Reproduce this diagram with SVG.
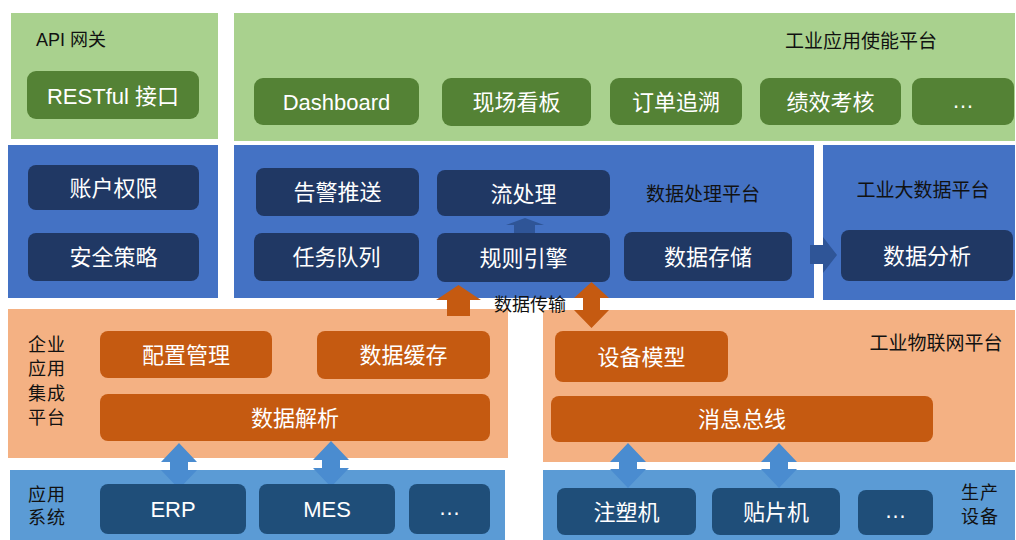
<svg xmlns="http://www.w3.org/2000/svg" width="1016" height="540" viewBox="0 0 1016 540">
<style>
text{font-family:"Liberation Sans","Noto Sans CJK SC",sans-serif;dominant-baseline:central}
.lbl{font-size:18px;fill:#111}
.big{font-size:19px}
.bt{font-size:22px;fill:#fff;text-anchor:middle}
.pg{fill:#A9D18E}
.pb{fill:#4472C4}
.po{fill:#F4B183}
.pl{fill:#5B9BD5}
.bg{fill:#548235}
.bn{fill:#203864}
.bo{fill:#C55A11}
.bs{fill:#1F4E79}
</style>
<rect width="1016" height="540" fill="#fff"/>
<g id="panels">
<rect id="api-panel" class="pg" x="11" y="13" width="207" height="126"/>
<rect id="app-enable-panel" class="pg" x="234" y="13" width="781" height="128"/>
<rect id="security-panel" class="pb" x="8" y="145" width="210" height="153"/>
<rect id="data-proc-panel" class="pb" x="234" y="145" width="580" height="153"/>
<rect id="bigdata-panel" class="pb" x="823" y="145" width="192" height="155"/>
<rect id="eai-panel" class="po" x="8" y="309" width="500" height="149"/>
<rect id="iiot-panel" class="po" x="543" y="310" width="472" height="152"/>
<rect id="appsys-panel" class="pl" x="10" y="470" width="495" height="70"/>
<rect id="prod-panel" class="pl" x="543" y="470" width="472" height="70"/>
</g>
<g id="panel-labels">
<text class="lbl" x="36" y="40">API 网关</text>
<text class="lbl big" x="861" y="41" text-anchor="middle">工业应用使能平台</text>
<text class="lbl big" x="703" y="194" text-anchor="middle">数据处理平台</text>
<text class="lbl big" x="923" y="190" text-anchor="middle">工业大数据平台</text>
<text class="lbl big" x="936" y="343" text-anchor="middle">工业物联网平台</text>
<text class="lbl" text-anchor="middle" letter-spacing="1"><tspan x="47" y="345">企业</tspan><tspan x="47" y="369">应用</tspan><tspan x="47" y="394">集成</tspan><tspan x="47" y="418">平台</tspan></text>
<text class="lbl" text-anchor="middle" letter-spacing="1"><tspan x="47" y="495">应用</tspan><tspan x="47" y="518">系统</tspan></text>
<text class="lbl" text-anchor="middle" letter-spacing="1"><tspan x="980" y="493">生产</tspan><tspan x="980" y="517">设备</tspan></text>
</g>
<g id="connectors">
<polygon id="c-rule-stream" fill="#2F5597" points="525,218 544,225 535,225 535,234 514,234 514,225 506,225"/>
<polygon id="c-proc-bigdata" fill="#2F5597" points="810,245 823,245 823,237 837,255 823,273 823,264 810,264"/>
<polygon id="c-eai-up" fill="#C55A11" points="458.5,285 481,300 470,300 470,316 447,316 447,300 436,300"/>
<polygon id="c-iiot-dbl" fill="#C55A11" points="591.5,282 609,298 600,298 600,310 609,310 591.5,328 574,310 583,310 583,298 574,298"/>
<polygon id="c-erp" fill="#4A8CD0" points="179,443 197,462 188,462 188,470 197,470 179,489 161,470 170,470 170,462 161,462"/>
<polygon id="c-mes" fill="#4A8CD0" points="331,441 349,460 340,460 340,468 349,468 331,487 313,468 322,468 322,460 313,460"/>
<polygon id="c-inj" fill="#4A8CD0" points="628,443 646,462 637,462 637,469 646,469 628,488 610,469 619,469 619,462 610,462"/>
<polygon id="c-smt" fill="#4A8CD0" points="779,443 797,462 788,462 788,469 797,469 779,488 761,469 770,469 770,462 761,462"/>
<text class="lbl" x="530" y="305" text-anchor="middle">数据传输</text>
</g>
<g id="n-restful"><rect class="bg" x="27" y="71" width="172" height="48" rx="9"/><text class="bt" x="113" y="96" font-size="20">RESTful 接口</text></g>
<g id="n-dashboard"><rect class="bg" x="254" y="78" width="165" height="47" rx="9"/><text class="bt" x="336.5" y="102">Dashboard</text></g>
<g id="n-board"><rect class="bg" x="442" y="78" width="149" height="48" rx="9"/><text class="bt" x="516.5" y="102">现场看板</text></g>
<g id="n-order"><rect class="bg" x="610" y="78" width="132" height="47" rx="9"/><text class="bt" x="676" y="102">订单追溯</text></g>
<g id="n-kpi"><rect class="bg" x="760" y="78" width="141" height="47" rx="9"/><text class="bt" x="830.5" y="102">绩效考核</text></g>
<g id="n-more1"><rect class="bg" x="912" y="78" width="102" height="47" rx="9"/><text class="bt" x="963" y="100" font-size="18">…</text></g>
<g id="n-account"><rect class="bn" x="28" y="165" width="171" height="45" rx="8"/><text class="bt" x="113.5" y="188">账户权限</text></g>
<g id="n-security"><rect class="bn" x="28" y="233" width="171" height="48" rx="8"/><text class="bt" x="113.5" y="257">安全策略</text></g>
<g id="n-alarm"><rect class="bn" x="256" y="168" width="163" height="48" rx="8"/><text class="bt" x="337.5" y="192">告警推送</text></g>
<g id="n-task"><rect class="bn" x="254" y="233" width="165" height="48" rx="8"/><text class="bt" x="336.5" y="257">任务队列</text></g>
<g id="n-stream"><rect class="bn" x="437" y="170" width="173" height="46" rx="8"/><text class="bt" x="523.5" y="194">流处理</text></g>
<g id="n-rule"><rect class="bn" x="437" y="233" width="173" height="49" rx="8"/><text class="bt" x="523.5" y="258">规则引擎</text></g>
<g id="n-storage"><rect class="bn" x="624" y="232" width="168" height="49" rx="8"/><text class="bt" x="708" y="257">数据存储</text></g>
<g id="n-analysis"><rect class="bn" x="841" y="230" width="172" height="51" rx="8"/><text class="bt" x="927" y="256">数据分析</text></g>
<g id="n-config"><rect class="bo" x="100" y="331" width="172" height="47" rx="8"/><text class="bt" x="186" y="355">配置管理</text></g>
<g id="n-cache"><rect class="bo" x="317" y="331" width="173" height="48" rx="8"/><text class="bt" x="403.5" y="355">数据缓存</text></g>
<g id="n-parse"><rect class="bo" x="100" y="394" width="390" height="47" rx="8"/><text class="bt" x="295" y="418">数据解析</text></g>
<g id="n-model"><rect class="bo" x="555" y="331" width="173" height="51" rx="8"/><text class="bt" x="641.5" y="357">设备模型</text></g>
<g id="n-bus"><rect class="bo" x="551" y="396" width="382" height="46" rx="8"/><text class="bt" x="742" y="419">消息总线</text></g>
<g id="n-erp"><rect class="bs" x="100" y="484" width="146" height="50" rx="8"/><text class="bt" x="173" y="509">ERP</text></g>
<g id="n-mes"><rect class="bs" x="259" y="484" width="136" height="50" rx="8"/><text class="bt" x="327" y="509">MES</text></g>
<g id="n-more2"><rect class="bs" x="409" y="484" width="81" height="50" rx="8"/><text class="bt" x="449.5" y="507" font-size="18">…</text></g>
<g id="n-injection"><rect class="bs" x="557" y="488" width="139" height="47" rx="8"/><text class="bt" x="626.5" y="512">注塑机</text></g>
<g id="n-smt"><rect class="bs" x="712" y="488" width="128" height="47" rx="8"/><text class="bt" x="776" y="512">贴片机</text></g>
<g id="n-more3"><rect class="bs" x="858" y="490" width="75" height="45" rx="8"/><text class="bt" x="895.5" y="510" font-size="18">…</text></g>
</svg>
